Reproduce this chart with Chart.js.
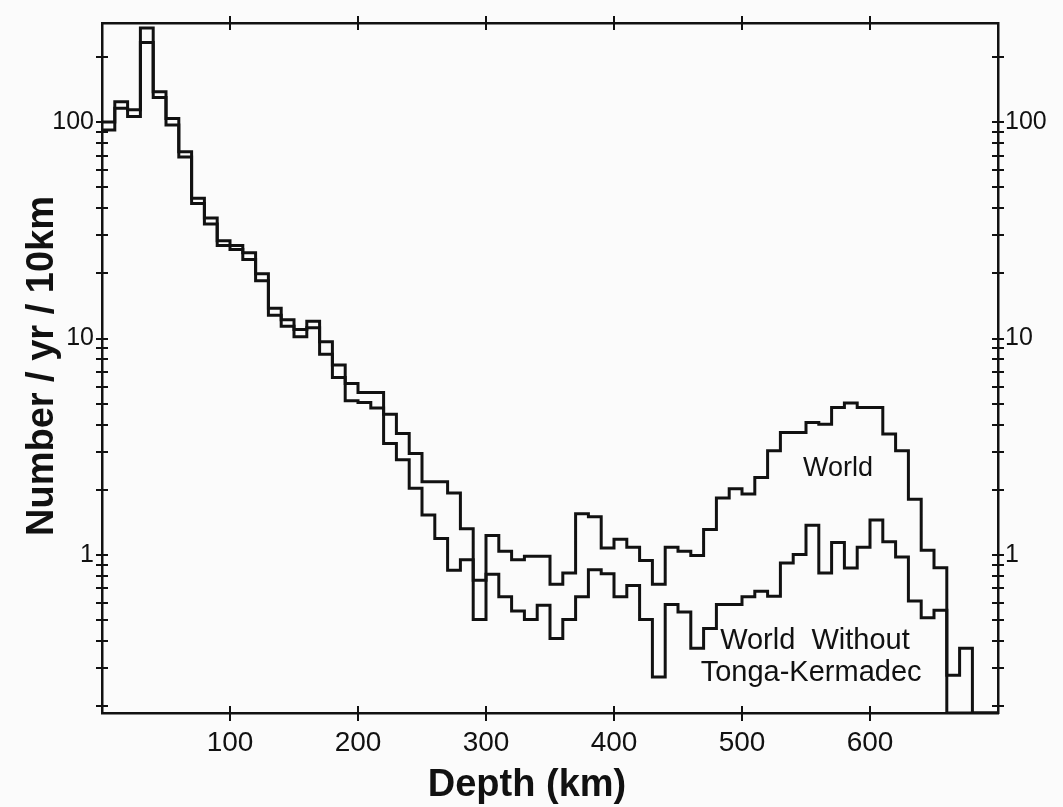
<!DOCTYPE html>
<html>
<head>
<meta charset="utf-8">
<script src="https://cdn.jsdelivr.net/npm/chart.js@4.4.1/dist/chart.umd.min.js"></script>
<style>
html,body{margin:0;padding:0;background:#fbfbfb;}
#wrap{width:1063px;height:807px;}
</style>
</head>
<body>
<div id="wrap"><canvas id="c" width="1063" height="807"></canvas></div>
<script>
// Depth bins (km, bin start), 10 km wide
const binStarts = [0,10,20,30,40,50,60,70,80,90,100,110,120,130,140,150,160,170,180,190,
  200,210,220,230,240,250,260,270,280,290,300,310,320,330,340,350,360,370,380,390,
  400,410,420,430,440,450,460,470,480,490,500,510,520,530,540,550,560,570,580,590,
  600,610,620,630,640,650,660,670,680,690];
const binEnd = 700;

// Number / yr / 10km — World
const world = [100,124,114,272,138,104,73,44.5,36,28.3,
  26.9,24.9,19.9,13.8,12.2,11.0,12.0,9.67,7.55,6.19,
  5.63,5.63,4.47,3.64,2.94,2.18,2.18,1.93,1.32,0.763,
  1.23,1.04,0.95,0.987,0.987,0.731,0.824,1.55,1.50,1.075,
  1.18,1.086,0.943,0.731,1.086,1.04,0.995,1.31,1.83,2.02,
  1.91,2.28,3.03,3.68,3.68,4.09,4.02,4.80,5.03,4.80,
  4.80,3.62,3.03,1.81,1.05,0.873,0.278,0.37,0,0];

// Number / yr / 10km — World without Tonga-Kermadec
const withoutTK = [92,116,106,233,130,97,69,42,33.8,26.9,
  25.8,23.2,18.5,12.8,11.4,10.2,11.2,8.45,6.6,5.15,
  5.06,4.77,3.27,2.75,2.03,1.53,1.19,0.85,0.95,0.503,
  0.813,0.64,0.55,0.503,0.585,0.411,0.503,0.64,0.855,0.819,
  0.64,0.723,0.503,0.273,0.59,0.545,0.37,0.457,0.59,0.59,
  0.64,0.68,0.644,0.917,1.005,1.37,0.824,1.14,0.87,1.086,
  1.45,1.15,0.977,0.612,0.513,0.555,0,0,0,0];

const xTickValues = [100,200,300,400,500,600];
const yLabelValues = [1,10,100];
const yMinorValues = [0.2,0.3,0.4,0.5,0.6,0.7,0.8,0.9,1,2,3,4,5,6,7,8,9,10,20,30,40,50,60,70,80,90,100,200];
const yMin = 0.186, yMax = 287;
const xMin = 0, xMax = 700;

const FONT = '"Liberation Sans", Arial, Helvetica, sans-serif';
const INK = '#111111';

function toPoints(vals){
  const pts = binStarts.map((x,i)=>({x:x, y: vals[i] > 0 ? vals[i] : yMin}));
  const last = vals[vals.length-1];
  pts.push({x: binEnd, y: last > 0 ? last : yMin});
  return pts;
}

const bgPlugin = {
  id:'bg',
  beforeDraw(chart){
    const ctx = chart.ctx;
    ctx.save(); ctx.fillStyle = '#fbfbfb';
    ctx.fillRect(0,0,chart.width,chart.height); ctx.restore();
  }
};

const decoPlugin = {
  id:'deco',
  afterDraw(chart, args, opts){
    const ctx = chart.ctx, a = chart.chartArea;
    const sx = chart.scales.x, sy = chart.scales.y;
    ctx.save();
    ctx.strokeStyle = INK; ctx.lineWidth = 2;
    const seg = (x1,y1,x2,y2)=>{ctx.beginPath();ctx.moveTo(x1,y1);ctx.lineTo(x2,y2);ctx.stroke();};
    xTickValues.forEach(v=>{
      const px = Math.round(sx.getPixelForValue(v));
      seg(px, a.bottom-7, px, a.bottom+8);
      seg(px, a.top-7, px, a.top+7);
    });
    yMinorValues.forEach(v=>{
      const py = Math.round(sy.getPixelForValue(v));
      seg(a.left-6, py, a.left+6, py);
      seg(a.right-6, py, a.right+6, py);
    });
    // axis titles
    ctx.fillStyle = INK;
    ctx.font = 'bold 38px ' + FONT;
    ctx.textAlign = 'center'; ctx.textBaseline = 'middle';
    ctx.fillText(opts.xTitle.text, opts.xTitle.cx, opts.xTitle.cy);
    ctx.save();
    ctx.translate(opts.yTitle.cx, opts.yTitle.cy);
    ctx.rotate(-Math.PI/2);
    ctx.fillText(opts.yTitle.text, 0, 0);
    ctx.restore();
    // series annotations
    opts.notes.forEach(n=>{
      ctx.font = n.size + 'px ' + FONT;
      ctx.fillText(n.text, sx.getPixelForValue(n.x), sy.getPixelForValue(n.y));
    });
    ctx.restore();
  }
};

const lineStyle = {borderColor: INK, borderWidth: 3, pointRadius: 0, stepped: true, fill: false, tension: 0};

new Chart(document.getElementById('c'), {
  type: 'line',
  data: {
    datasets: [
      Object.assign({label:'World', data: toPoints(world)}, lineStyle),
      Object.assign({label:'World Without Tonga-Kermadec', data: toPoints(withoutTK)}, lineStyle)
    ]
  },
  options: {
    responsive: false,
    animation: false,
    devicePixelRatio: 1,
    layout: {padding: 0},
    plugins: {
      legend: {display:false},
      tooltip: {enabled:false},
      deco: {
        xTitle: {text:'Depth (km)', cx: 527, cy: 786},
        yTitle: {text:'Number / yr / 10km', cx: 43, cy: 366},
        notes: [
          {text:'World', x: 575, y: 2.5, size: 27},
          {text:'World  Without', x: 557, y: 0.40, size: 29},
          {text:'Tonga-Kermadec', x: 554, y: 0.284, size: 29}
        ]
      }
    },
    scales: {
      x: {
        type:'linear', position:'bottom', min:xMin, max:xMax,
        grid:{display:false, drawTicks:false},
        border:{display:true, color:INK, width:2.5},
        afterBuildTicks(s){ s.ticks = xTickValues.map(v=>({value:v})); },
        afterFit(s){ s.height = 94; },
        ticks:{color:INK, font:{family:FONT, size:28}, padding:13, maxRotation:0, autoSkip:false,
          callback:(v)=>String(v)}
      },
      x2: {
        type:'linear', axis:'x', position:'top', min:xMin, max:xMax,
        grid:{display:false, drawTicks:false},
        border:{display:true, color:INK, width:2.5},
        ticks:{display:false},
        afterFit(s){ s.height = 21; }
      },
      y: {
        type:'logarithmic', position:'left', min:yMin, max:yMax,
        grid:{display:false, drawTicks:false},
        border:{display:true, color:INK, width:2.5},
        afterBuildTicks(s){ s.ticks = yLabelValues.map(v=>({value:v})); },
        afterFit(s){ s.width = 102; },
        ticks:{color:INK, font:{family:FONT, size:25}, padding:8, autoSkip:false,
          callback:(v)=>String(v)}
      },
      y2: {
        type:'logarithmic', axis:'y', position:'right', min:yMin, max:yMax,
        grid:{display:false, drawTicks:false},
        border:{display:true, color:INK, width:2.5},
        afterBuildTicks(s){ s.ticks = yLabelValues.map(v=>({value:v})); },
        afterFit(s){ s.width = 65; },
        ticks:{color:INK, font:{family:FONT, size:25}, padding:7, autoSkip:false,
          callback:(v)=>String(v)}
      }
    }
  },
  plugins: [bgPlugin, decoPlugin]
});
</script>
</body>
</html>
